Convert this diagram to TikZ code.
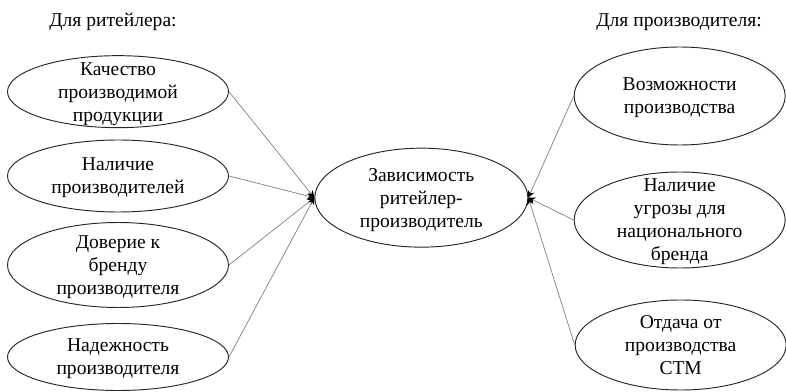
\documentclass[tikz,border=0pt]{standalone}
\usepackage{fontspec}
\setmainfont{Liberation Serif}
\usepackage{tikz}
\usetikzlibrary{positioning,arrows.meta,shapes.geometric}
% text of a factor, kept out of the ellipse's size
\newcommand{\factxt}[1]{\raisebox{-0.35em}[0pt][0pt]{\begin{tabular}{@{}c@{}}#1\end{tabular}}}

\begin{document}
\begin{tikzpicture}[
  every node/.style={font=\fontsize{16.7}{19.6}\selectfont},
  factor/.style={ellipse, draw=black!85, thick, inner sep=0pt,
                 minimum width=6.63cm},
  hub/.style={ellipse, draw=black!85, thick, inner sep=0pt,
              minimum width=6.39cm, minimum height=2.97cm},
  flow/.style={-{Stealth[length=6pt,width=6pt,color=black]}, draw=black!50, semithick}
]
\useasboundingbox (0,0) rectangle (23.58,-11.76);
% Headings
\node (hret) at (3.39,-0.66)  {Для ритейлера:};
\node (hpro) at (20.37,-0.66) {Для производителя:};
% Centre
\node[hub] (dep) at (12.64,-5.93)
  {\factxt{Зависимость\\ритейлер-\\производитель}};
% Retailer side
\node[factor, minimum height=2.16cm] (r1) at (3.54,-2.75)
  {\factxt{Качество\\производимой\\продукции}};
\node[factor, minimum height=2.16cm] (r2) at (3.54,-5.28)
  {\factxt{Наличие\\производителей}};
\node[factor, minimum height=2.55cm] (r3) at (3.54,-7.95)
  {\factxt{Доверие к\\бренду\\производителя}};
\node[factor, minimum height=2.01cm] (r4) at (3.54,-10.71)
  {\factxt{Надежность\\производителя}};
% Producer side
\node[factor, minimum width=6.33cm, minimum height=2.94cm] (p1) at (20.39,-2.88)
  {\factxt{Возможности\\производства}};
\node[factor, minimum width=6.33cm, minimum height=2.88cm] (p2) at (20.39,-6.60)
  {\factxt{Наличие\\угрозы  для\\национального\\бренда}};
\node[factor, minimum width=6.33cm, minimum height=2.70cm] (p3) at (20.42,-10.35)
  {\factxt{Отдача от\\производства\\СТМ}};
% Connectors
\foreach \src in {r1,r2,r3,r4}
  \draw[flow] (\src.east) -- (dep.west);
\foreach \src in {p1,p2,p3}
  \draw[flow] (\src.west) -- (dep.east);
\end{tikzpicture}
\end{document}
